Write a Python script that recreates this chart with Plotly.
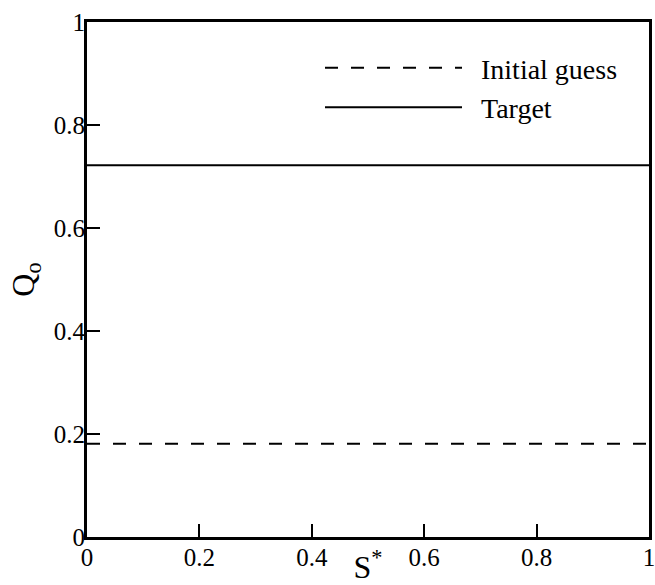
import plotly.graph_objects as go

s_star = [0.0, 1.0]
initial_guess = [0.181, 0.181]
target = [0.722, 0.722]
tick_vals = [0, 0.2, 0.4, 0.6, 0.8, 1]
tick_text = ["0", "0.2", "0.4", "0.6", "0.8", "1"]

FONT = "Times New Roman, Liberation Serif, DejaVu Serif, serif"
PAD = "\u00a0\u00a0"

fig = go.Figure()
fig.add_trace(go.Scatter(x=s_star, y=initial_guess, mode="lines", name=PAD + "Initial guess",
                         line=dict(color="black", width=2, dash="13px,13px")))
fig.add_trace(go.Scatter(x=s_star, y=target, mode="lines", name=PAD + "Target",
                         line=dict(color="black", width=2)))

tickfont = dict(family=FONT, size=25, color="black")

fig.update_layout(
    width=655, height=585,
    margin=dict(l=87, r=6, t=22, b=48),
    paper_bgcolor="white", plot_bgcolor="white",
    showlegend=True,
    font=dict(family=FONT, color="black", size=25),
    legend=dict(x=0.4146, y=0.959, xanchor="left", yanchor="top",
                bgcolor="rgba(0,0,0,0)", borderwidth=0, itemwidth=137,
                font=dict(family=FONT, size=28, color="black"),
                tracegroupgap=0),
    xaxis=dict(range=[0, 1], tickmode="array", tickvals=tick_vals, ticktext=tick_text,
               ticks="inside", ticklen=13, tickwidth=2, tickcolor="black",
               showline=True, linewidth=3, linecolor="black", mirror=True,
               showgrid=False, zeroline=False, automargin=False,
               ticklabeloverflow="allow", ticklabelstandoff=-4,
               tickfont=tickfont,
               title=dict(text="S<sup>*</sup>", font=dict(family=FONT, size=32), standoff=0)),
    yaxis=dict(range=[0, 1], tickmode="array", tickvals=tick_vals, ticktext=tick_text,
               ticks="inside", ticklen=13, tickwidth=2, tickcolor="black",
               showline=True, linewidth=3, linecolor="black", mirror=True,
               showgrid=False, zeroline=False, automargin=False,
               ticklabeloverflow="allow", ticklabelstandoff=-6,
               tickfont=tickfont,
               title=dict(text="Q<sub>o</sub>", font=dict(family=FONT, size=32), standoff=10)),
)

fig.write_html("out.html")
